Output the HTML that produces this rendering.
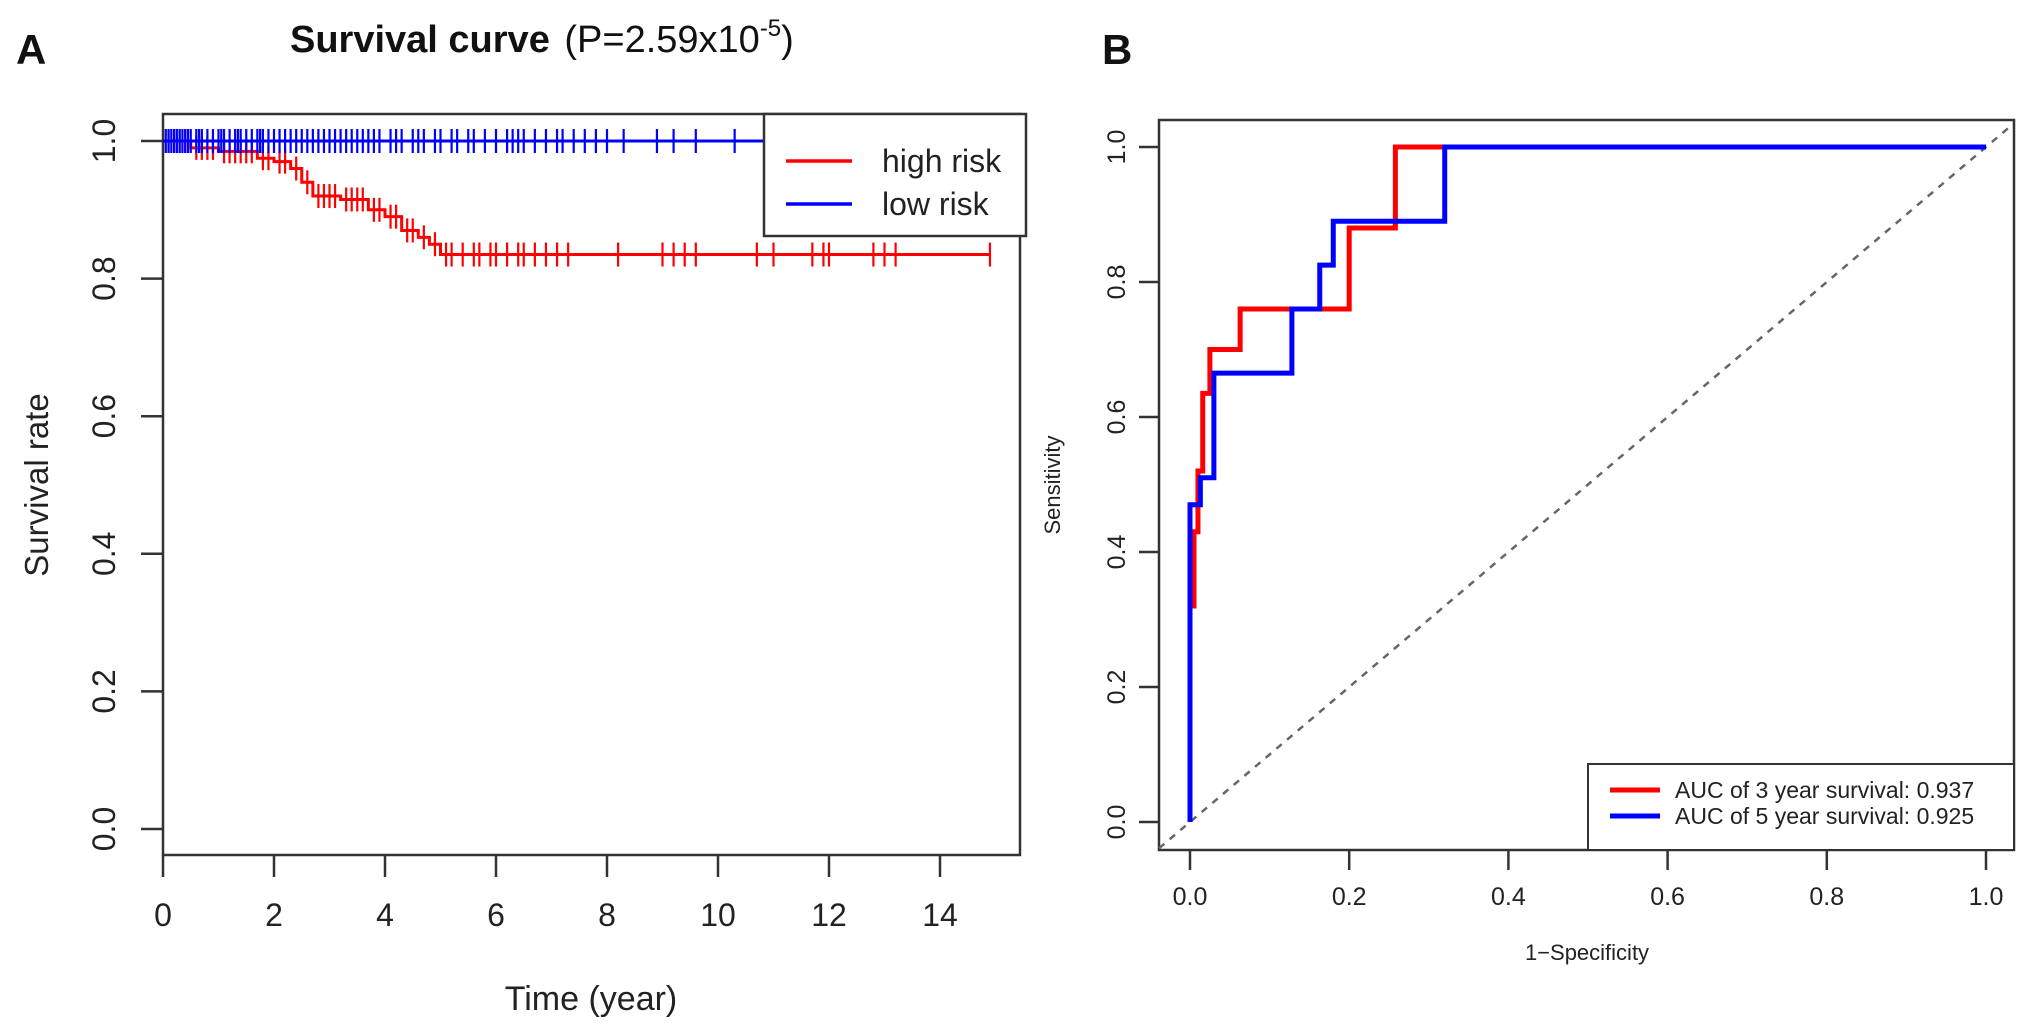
<!DOCTYPE html>
<html><head><meta charset="utf-8"><style>
html,body{margin:0;padding:0;background:#fff;}
svg{display:block;font-family:"Liberation Sans",Arial,sans-serif;}
</style></head><body>
<svg id="fig" width="2031" height="1025" viewBox="0 0 2031 1025" xmlns="http://www.w3.org/2000/svg">
<text x="16" y="64" font-size="42" font-weight="bold" fill="#111">A</text>
<text x="1102" y="64" font-size="42" font-weight="bold" fill="#111">B</text>
<text x="290" y="52" font-size="38" fill="#111"><tspan font-weight="bold">Survival curve</tspan><tspan dx="4"> (P=2.59x10</tspan><tspan dy="-16" font-size="24">-5</tspan><tspan dy="16">)</tspan></text>
<g id="km"></g>
<g id="roc"></g>
</svg>
<script>
// ---- Survival data ----
const kmTicks = [0,2,4,6,8,10,12,14];
const kmYTicks = [0,0.2,0.4,0.6,0.8,1.0];
const highTimes = [0,0.5,1.0,1.7,2.0,2.3,2.5,2.7,3.2,3.7,4.0,4.3,4.6,4.8,5.0,14.9];
const highSurv  = [1.0,0.99,0.985,0.975,0.97,0.96,0.94,0.92,0.915,0.90,0.89,0.87,0.86,0.85,0.835,0.835];
const lowTimes = [0,15.0];
const lowSurv = [1.0,1.0];
const highCensor = [0.1,0.2,0.3,0.4,0.6,0.7,0.8,0.9,1.1,1.2,1.3,1.4,1.5,1.6,1.8,1.9,2.1,2.2,2.4,2.6,2.8,2.9,3.0,3.1,3.3,3.4,3.5,3.6,3.8,3.9,4.1,4.2,4.4,4.5,4.7,4.9,5.1,5.2,5.4,5.6,5.7,5.9,6.0,6.2,6.4,6.5,6.7,6.9,7.1,7.3,8.2,9.0,9.2,9.4,9.6,10.7,11.0,11.7,11.9,12.0,12.8,13.0,13.2,14.9];
const lowCensor = [0.05,0.1,0.15,0.2,0.25,0.3,0.35,0.4,0.45,0.5,0.6,0.65,0.7,0.8,0.9,1.0,1.05,1.1,1.2,1.3,1.35,1.4,1.5,1.6,1.7,1.75,1.8,1.9,2.0,2.1,2.2,2.3,2.4,2.5,2.6,2.7,2.8,2.9,3.0,3.1,3.2,3.3,3.4,3.5,3.6,3.7,3.8,3.9,4.1,4.2,4.3,4.5,4.6,4.7,4.9,5.0,5.2,5.3,5.5,5.6,5.8,6.0,6.2,6.3,6.4,6.5,6.7,6.9,7.1,7.2,7.4,7.6,7.8,8.0,8.3,8.9,9.2,9.6,10.3];
// ---- ROC data ----
const rocTicks = [0,0.2,0.4,0.6,0.8,1.0];
const roc3Fpr = [0,0,0.005,0.005,0.01,0.01,0.016,0.016,0.025,0.025,0.063,0.063,0.2,0.2,0.258,0.258,1.0];
const roc3Tpr = [0,0.32,0.32,0.43,0.43,0.52,0.52,0.635,0.635,0.70,0.70,0.76,0.76,0.88,0.88,1.0,1.0];
const roc5Fpr = [0,0,0.013,0.013,0.03,0.03,0.128,0.128,0.163,0.163,0.18,0.18,0.32,0.32,1.0];
const roc5Tpr = [0,0.47,0.47,0.51,0.51,0.665,0.665,0.76,0.76,0.825,0.825,0.89,0.89,1.0,1.0];
const legendKm = ["high risk","low risk"];
const legendRoc = ["AUC of 3 year survival:  0.937","AUC of 5 year survival:  0.925"];

const NS="http://www.w3.org/2000/svg";
function mk(parent,tag,attrs,text){const e=document.createElementNS(NS,tag);for(const k in attrs)e.setAttribute(k,attrs[k]);if(text!==undefined)e.textContent=text;parent.appendChild(e);return e;}

// ===== Survival plot =====
const km=document.getElementById('km');
const kx=t=>163+t*55.5, ky=v=>829-v*688;
mk(km,'rect',{x:163,y:114,width:857,height:741,fill:'none',stroke:'#333','stroke-width':2.5});
kmTicks.forEach(t=>{
  const l=mk(km,'line',{x1:kx(t),x2:kx(t),y1:855,y2:877,stroke:'#333','stroke-width':2.5});
  
  
  const tx=mk(km,'text',{x:kx(t),y:926,'font-size':32,'text-anchor':'middle',fill:'#222'},String(t));
  
  
});
kmYTicks.forEach(v=>{
  const l=mk(km,'line',{x1:141,x2:163,y1:ky(v),y2:ky(v),stroke:'#333','stroke-width':2.5});
  
  
  const tx=mk(km,'text',{x:0,y:0,'font-size':32,'text-anchor':'middle',fill:'#222',transform:`translate(115,${ky(v)}) rotate(-90)`},v.toFixed(1));
  
  
});
let t1=mk(km,'text',{x:591,y:1010,'font-size':34,'text-anchor':'middle',fill:'#222'},'Time (year)');


let t2=mk(km,'text',{x:0,y:0,'font-size':33,'text-anchor':'middle',fill:'#222',transform:'translate(48,485) rotate(-90)'},'Survival rate');


function stepPath(ts,vs,fx,fy){let d=`M${fx(ts[0])},${fy(vs[0])}`;for(let i=1;i<ts.length;i++){d+=`H${fx(ts[i])}V${fy(vs[i])}`;}return d;}
function survAt(ts,vs,t){let s=vs[0];for(let i=0;i<ts.length;i++){if(ts[i]<=t)s=vs[i];}return s;}
let pr=mk(km,'path',{d:stepPath(highTimes,highSurv,kx,ky),fill:'none',stroke:'#f00','stroke-width':3});


highCensor.forEach(t=>{const y=ky(survAt(highTimes,highSurv,t));const c=mk(km,'line',{x1:kx(t),x2:kx(t),y1:y-12,y2:y+12,stroke:'#f00','stroke-width':2.2});
  
  });
let pb=mk(km,'path',{d:stepPath(lowTimes,lowSurv,kx,ky),fill:'none',stroke:'#00f','stroke-width':3});


lowCensor.forEach(t=>{const y=ky(survAt(lowTimes,lowSurv,t));const c=mk(km,'line',{x1:kx(t),x2:kx(t),y1:y-12,y2:y+12,stroke:'#00f','stroke-width':2.2});
  
  });
// legend
const lg=mk(km,'g',{});


mk(lg,'rect',{x:764,y:114,width:262,height:122,fill:'#fff',stroke:'#333','stroke-width':2.5});
['#f00','#00f'].forEach((c,i)=>{const y=161+i*43;
  mk(lg,'line',{x1:786,x2:852,y1:y,y2:y,stroke:c,'stroke-width':3.5});
  const tx=mk(lg,'text',{x:882,y:y+11,'font-size':32,fill:'#222'},legendKm[i]);
  
  });

// ===== ROC plot =====
const roc=document.getElementById('roc');
const rx=v=>1190+v*796, ry=v=>822-v*675;
mk(roc,'rect',{x:1159,y:120,width:855,height:730,fill:'none',stroke:'#333','stroke-width':2.5});
let dg=mk(roc,'line',{x1:rx(-0.039),y1:ry(-0.039),x2:rx(1.03),y2:ry(1.03),stroke:'#666','stroke-width':2.5,'stroke-dasharray':'7,7'});


rocTicks.forEach(v=>{
  const l=mk(roc,'line',{x1:rx(v),x2:rx(v),y1:850,y2:870,stroke:'#333','stroke-width':2.5});
  
  
  const tx=mk(roc,'text',{x:rx(v),y:905,'font-size':25,'text-anchor':'middle',fill:'#222'},v.toFixed(1));
  
  
  const l2=mk(roc,'line',{x1:1139,x2:1159,y1:ry(v),y2:ry(v),stroke:'#333','stroke-width':2.5});
  
  
  const ty=mk(roc,'text',{x:0,y:0,'font-size':25,'text-anchor':'middle',fill:'#222',transform:`translate(1125,${ry(v)}) rotate(-90)`},v.toFixed(1));
  
  
});
let t3=mk(roc,'text',{x:1587,y:960,'font-size':22,'text-anchor':'middle',fill:'#222'},'1\u2212Specificity');


let t4=mk(roc,'text',{x:0,y:0,'font-size':22,'text-anchor':'middle',fill:'#222',transform:'translate(1060,485) rotate(-90)'},'Sensitivity');


function poly(xs,ys){return xs.map((x,i)=>`${rx(x)},${ry(ys[i])}`).join(' ');}
let r3=mk(roc,'polyline',{points:poly(roc3Fpr,roc3Tpr),fill:'none',stroke:'#f00','stroke-width':5});


let r5=mk(roc,'polyline',{points:poly(roc5Fpr,roc5Tpr),fill:'none',stroke:'#00f','stroke-width':5});


const lg2=mk(roc,'g',{});


mk(lg2,'rect',{x:1588,y:764,width:426,height:86,fill:'#fff',stroke:'#333','stroke-width':2});
['#f00','#00f'].forEach((c,i)=>{const y=790+i*26;
  mk(lg2,'line',{x1:1610,x2:1660,y1:y,y2:y,stroke:c,'stroke-width':5});
  const tx=mk(lg2,'text',{x:1675,y:y+8,'font-size':23,fill:'#222'},legendRoc[i]);
  
  });
</script>
</body></html>
